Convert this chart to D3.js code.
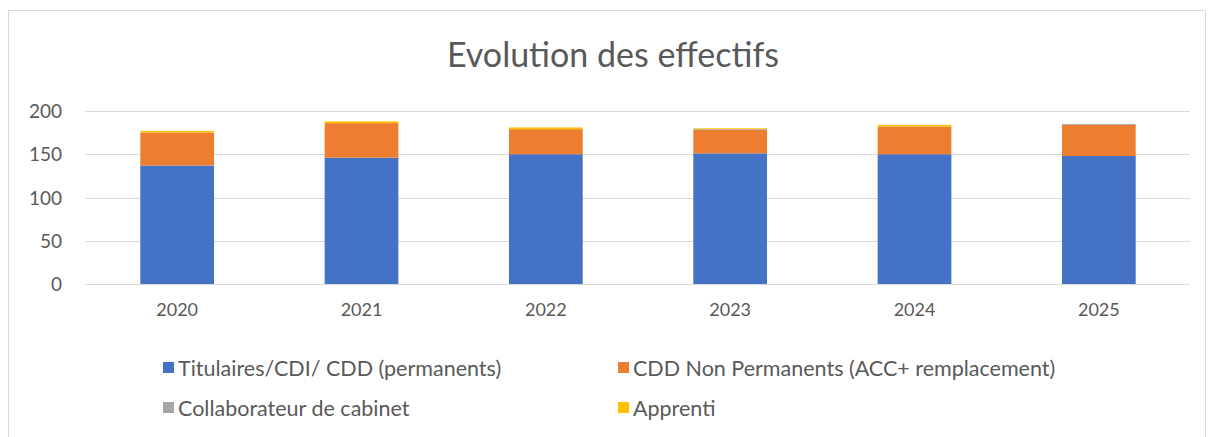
<!DOCTYPE html>
<html>
<head>
<meta charset="utf-8">
<script src="https://cdn.jsdelivr.net/npm/d3@7"></script>
<style>
  body { margin: 0; background: #fff; }
  svg text { font-family: Lato, "Open Sans", sans-serif; fill: #595959; }
</style>
</head>
<body>
<svg width="1214" height="437"></svg>
<script>
// data
var years = ['2020', '2021', '2022', '2023', '2024', '2025'];
var titulaires = [137, 146, 150, 151, 150, 148];
var cddNonPerm = [38, 40, 29, 27, 32, 36];
var collaborateur = [0, 0, 0, 1, 0, 1];
var apprenti = [2, 2, 2, 1, 2, 0];
var yTicks = [0, 50, 100, 150, 200];

var seriesNames = ['Titulaires/CDI/ CDD (permanents)', 'CDD Non Permanents (ACC+ remplacement)', 'Collaborateur de cabinet', 'Apprenti'];
var colors = ['#4472C4', '#ED7D31', '#A5A5A5', '#FFC000'];

var svg = d3.select('svg');

// chart frame
svg.append('rect')
    .attr('x', 8.5).attr('y', 10.5)
    .attr('width', 1197).attr('height', 440)
    .attr('fill', 'none')
    .attr('stroke', '#d9d9d9');

var rows = years.map(function(y, i) {
    return {year: y, s0: titulaires[i], s1: cddNonPerm[i], s2: collaborateur[i], s3: apprenti[i]};
});
var stack = d3.stack().keys(['s0', 's1', 's2', 's3'])(rows);

var xScale = d3.scaleBand()
    .domain(years)
    .range([85, 1191])
    .paddingInner(0.6)
    .paddingOuter(0.3);

var yScale = d3.scaleLinear()
    .domain([0, 200])
    .range([284, 111]);

// gridlines
svg.append('g')
    .selectAll('line')
    .data(yTicks)
    .enter().append('line')
    .attr('x1', 85).attr('x2', 1190)
    .attr('y1', function(d) { return Math.round(yScale(d)) + 0.5; })
    .attr('y2', function(d) { return Math.round(yScale(d)) + 0.5; })
    .attr('stroke', '#d9d9d9')
    .attr('stroke-width', 1);

var yAxis = d3.axisLeft(yScale).tickValues(yTicks).tickSize(0).tickPadding(0);
var gy = svg.append('g')
    .attr('transform', 'translate(62,0)')
    .call(yAxis);
gy.select('.domain').remove();
gy.selectAll('text').attr('font-size', 19).attr('dy', '0.35em');

var xAxis = d3.axisBottom(xScale).tickSize(0).tickPadding(0);
var gx = svg.append('g')
    .attr('transform', 'translate(0,302)')
    .call(xAxis);
gx.select('.domain').remove();
gx.selectAll('text').attr('font-size', 18).attr('dy', '0.75em');

// bars
svg.append('g')
    .selectAll('g')
    .data(stack)
    .enter().append('g')
    .attr('fill', function(d, i) { return colors[i]; })
    .selectAll('rect')
    .data(function(d) { return d; })
    .enter().append('rect')
    .attr('x', function(d) { return xScale(d.data.year); })
    .attr('width', xScale.bandwidth())
    .attr('y', function(d) { return yScale(d[1]); })
    .attr('height', function(d) { return yScale(d[0]) - yScale(d[1]); });

// title
svg.append('text')
    .attr('x', 613)
    .attr('y', 67)
    .attr('text-anchor', 'middle')
    .attr('font-size', 34)
    .text('Evolution des effectifs');

// legend
var legendPos = [[163, 368], [618, 368], [163, 408], [618, 408]];
var legend = svg.append('g')
    .selectAll('g')
    .data(seriesNames)
    .enter().append('g')
    .attr('transform', function(d, i) { return 'translate(' + legendPos[i][0] + ',' + legendPos[i][1] + ')'; });
legend.append('rect')
    .attr('x', 0).attr('y', -6)
    .attr('width', 11).attr('height', 11)
    .attr('fill', function(d, i) { return colors[i]; });
legend.append('text')
    .attr('x', 15)
    .attr('dy', '0.35em')
    .attr('font-size', 21.5)
    .text(function(d) { return d; });
</script>
</body>
</html>
